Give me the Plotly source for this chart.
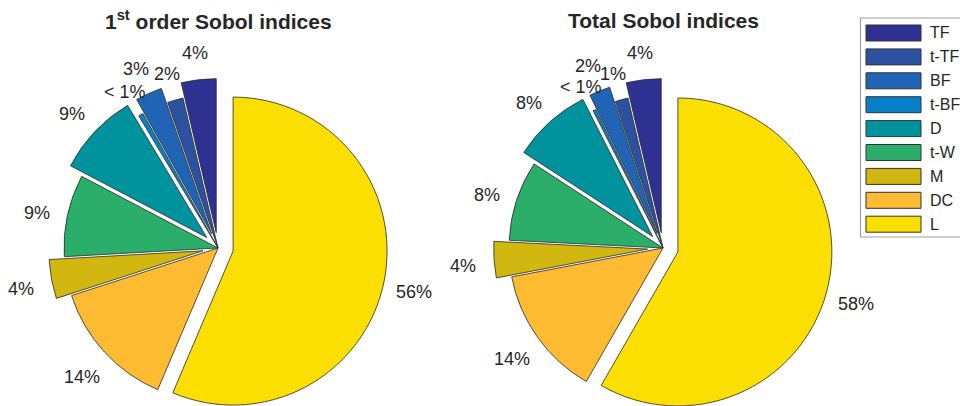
import math
import plotly.graph_objects as go

# Sobol sensitivity shares (%) per input, listed counterclockwise from 12 o'clock
params = ["TF", "t-TF", "BF", "t-BF", "D", "t-W", "M", "DC", "L"]
first_order = [3.65, 1.65, 2.8, 0.5, 8.7, 8.6, 4.1, 13.6, 56.4]
total_order = [3.65, 1.35, 2.2, 0.3, 8.3, 8.4, 3.8, 13.7, 58.3]
exploded = [1, 0, 1, 0, 1, 0, 1, 0, 1]
panel_titles = ["<b>1<sup>st</sup> order Sobol indices</b>", "<b>Total Sobol indices</b>"]

colors = ["#2E3192", "#2A52A1", "#1F64B5", "#0681C8", "#00939E",
          "#2AAE6A", "#D1B70F", "#FCBB31", "#FADF00"]

W, H = 960, 406
FONT = "Liberation Sans, Arial, sans-serif"
TXT = "#262626"
EDGE = "#2a2a2a"
CLEAR = "rgba(0,0,0,0)"
PULL = 0.1          # explode offset, as a fraction of the radius
R = 154             # pie radius in px
CENTRES = [(218, 248), (663, 248)]


def pct_labels(vals):
    tot = sum(vals)
    out = []
    for v in vals:
        p = 100.0 * v / tot
        out.append("< 1%" if p < 1 else f"{round(p)}%")
    return out


def px(x):
    return x / W


def py(y):
    return 1 - y / H


def domain_at(cx, cy):
    # square pie box of side 2R centred on (cx, cy) px
    return dict(x=[px(cx - R), px(cx + R)], y=[py(cy + R), py(cy - R)])


fig = go.Figure()

for vals, (cx, cy), title in zip([first_order, total_order], CENTRES, panel_titles):
    tot = sum(vals)
    n = len(vals)
    # counterclockwise pies in plotly end the first slice at `rotation`;
    # shift back so the first slice starts at 12 o'clock
    rot = -360.0 * vals[0] / tot

    # mid angle of every slice (degrees, counterclockwise from 3 o'clock)
    mids = []
    cum = 0.0
    for v in vals:
        mids.append(90 + 360 * (cum + v / 2) / tot)
        cum += v

    common = dict(labels=params, values=vals, textinfo="none", sort=False,
                  direction="counterclockwise", rotation=rot, showlegend=False)

    # slices that stay at the centre
    fig.add_trace(go.Pie(
        **common,
        marker=dict(colors=[CLEAR if e else c for c, e in zip(colors, exploded)],
                    line=dict(color=EDGE, width=[0 if e else 0.8 for e in exploded])),
        domain=domain_at(cx, cy),
        hoverinfo="label+percent",
    ))

    # exploded slices, each shifted outward along its own mid angle
    for k in range(n):
        if not exploded[k]:
            continue
        th = math.radians(mids[k])
        dx = PULL * R * math.cos(th)
        dy = PULL * R * math.sin(th)
        fig.add_trace(go.Pie(
            **common,
            marker=dict(colors=[colors[j] if j == k else CLEAR for j in range(n)],
                        line=dict(color=EDGE, width=[0.8 if j == k else 0 for j in range(n)])),
            domain=domain_at(cx + dx, cy - dy),
            hoverinfo="skip",
        ))

    # percentage labels at 1.2 radii from each (possibly shifted) slice vertex
    for k, lab in enumerate(pct_labels(vals)):
        th = math.radians(mids[k])
        d = (PULL * exploded[k] + 1.2) * R
        lx = cx + d * math.cos(th)
        ly = cy - d * math.sin(th) + 4
        fig.add_annotation(x=px(lx), y=py(ly), xref="paper", yref="paper",
                           text=lab, showarrow=False, xanchor="center", yanchor="middle",
                           font=dict(family=FONT, size=18, color=TXT))

    fig.add_annotation(x=px(cx), y=py(20), xref="paper", yref="paper",
                       text=title, showarrow=False, xanchor="center", yanchor="middle",
                       font=dict(family=FONT, size=21, color=TXT))

# legend box with one swatch per input
fig.add_shape(type="rect", xref="paper", yref="paper",
              x0=px(860.5), x1=px(975), y0=py(18), y1=py(237),
              line=dict(color="#A0A0A0", width=1.2), fillcolor="white")
step = 23.9
for i, (name, col) in enumerate(zip(params, colors)):
    yc = 33 + i * step
    fig.add_shape(type="rect", xref="paper", yref="paper",
                  x0=px(866), x1=px(921), y0=py(yc - 8), y1=py(yc + 8),
                  line=dict(color="#333333", width=1), fillcolor=col)
    fig.add_annotation(x=px(928), y=py(yc), xref="paper", yref="paper",
                       text=name, showarrow=False, xanchor="left", yanchor="middle",
                       font=dict(family=FONT, size=16, color=TXT))

fig.update_layout(
    width=W, height=H,
    margin=dict(l=0, r=0, t=0, b=0, autoexpand=False),
    paper_bgcolor="white",
    plot_bgcolor="white",
)

fig.write_html("out.html")
